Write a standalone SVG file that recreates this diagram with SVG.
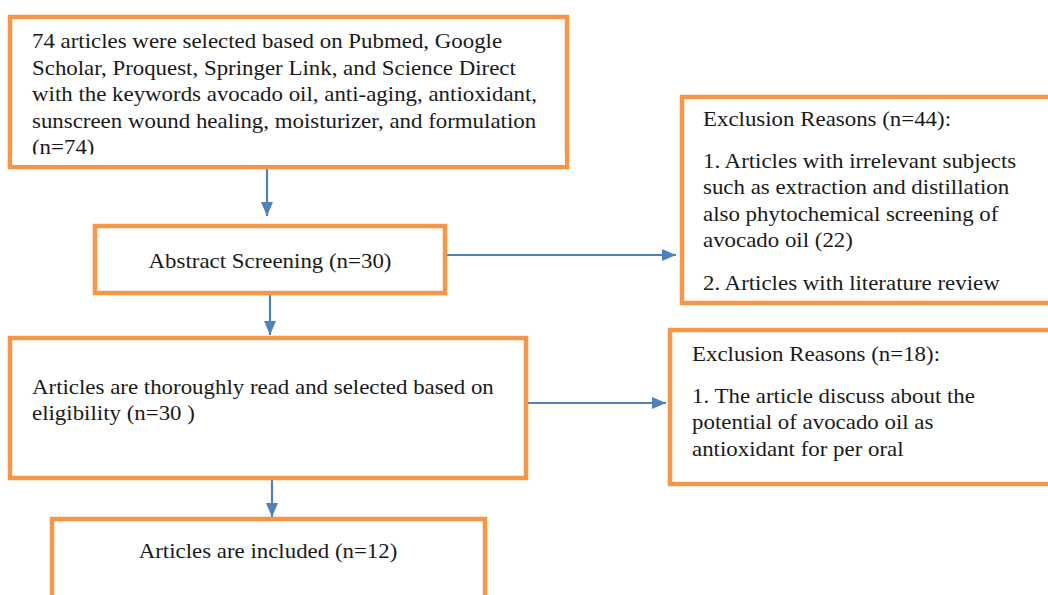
<svg xmlns="http://www.w3.org/2000/svg" width="1048" height="595" viewBox="0 0 1048 595">
<defs>
<style>
.box{fill:#fff;stroke:#F79646;stroke-width:4.5;}
.t{font-family:"Liberation Serif","Times New Roman",serif;font-size:21px;fill:#1a1a1a;}
.m{text-anchor:middle;}
.c{stroke:#4F81BD;stroke-width:2.2;fill:none;}
</style>
<marker id="ah" viewBox="0 0 14 12" refX="14" refY="6" markerWidth="14" markerHeight="12" markerUnits="userSpaceOnUse" orient="auto">
<path d="M0,0 L14,6 L0,12 z" fill="#4F81BD"/>
</marker>
</defs>
<rect width="1048" height="595" fill="#fff"/>
<g id="connectors">
<line class="c" x1="267" y1="168" x2="267" y2="216" marker-end="url(#ah)"/>
<line class="c" x1="447" y1="255" x2="676" y2="255" marker-end="url(#ah)"/>
<line class="c" x1="270" y1="294" x2="270" y2="335" marker-end="url(#ah)"/>
<line class="c" x1="528" y1="403" x2="666" y2="403" marker-end="url(#ah)"/>
<line class="c" x1="272" y1="479" x2="272" y2="517" marker-end="url(#ah)"/>
</g>
<g id="n1">
<rect class="box" x="10" y="17" width="557" height="150"/>
<g transform="translate(32,0) scale(1.09,1)">
<text class="t" x="0" y="48">74 articles were selected based on Pubmed, Google</text>
<text class="t" x="0" y="75">Scholar, Proquest, Springer Link, and Science Direct</text>
<text class="t" x="0" y="101">with the keywords avocado oil, anti-aging, antioxidant,</text>
<text class="t" x="0" y="128">sunscreen wound healing, moisturizer, and formulation</text>
<text class="t" x="0" y="154">(n=74)</text>
</g>
<rect x="12" y="154.5" width="553" height="10.3" fill="#fff"/>
</g>
<g id="n2">
<rect class="box" x="95" y="226" width="350" height="67"/>
<g transform="translate(270,0) scale(1.09,1)">
<text class="t m" x="0" y="268">Abstract Screening (n=30)</text>
</g>
</g>
<g id="n3">
<rect class="box" x="682" y="97" width="380" height="206"/>
<g transform="translate(703,0) scale(1.09,1)">
<text class="t" x="0" y="126">Exclusion Reasons (n=44):</text>
<text class="t" x="0" y="168">1. Articles with irrelevant subjects</text>
<text class="t" x="0" y="194">such as extraction and distillation</text>
<text class="t" x="0" y="221">also phytochemical screening of</text>
<text class="t" x="0" y="247">avocado oil (22)</text>
<text class="t" x="0" y="290">2. Articles with literature review</text>
</g>
</g>
<g id="n4">
<rect class="box" x="10" y="338" width="516" height="140"/>
<g transform="translate(32,0) scale(1.09,1)">
<text class="t" x="0" y="394">Articles are thoroughly read and selected based on</text>
<text class="t" x="0" y="420">eligibility (n=30 )</text>
</g>
</g>
<g id="n5">
<rect class="box" x="670" y="330" width="390" height="154"/>
<g transform="translate(692,0) scale(1.09,1)">
<text class="t" x="0" y="361">Exclusion Reasons (n=18):</text>
<text class="t" x="0" y="403">1. The article discuss about the</text>
<text class="t" x="0" y="429">potential of avocado oil as</text>
<text class="t" x="0" y="456">antioxidant for per oral</text>
</g>
</g>
<g id="n6">
<rect class="box" x="52" y="519" width="433" height="100"/>
<g transform="translate(268,0) scale(1.09,1)">
<text class="t m" x="0" y="558">Articles are included (n=12)</text>
</g>
</g>
</svg>
